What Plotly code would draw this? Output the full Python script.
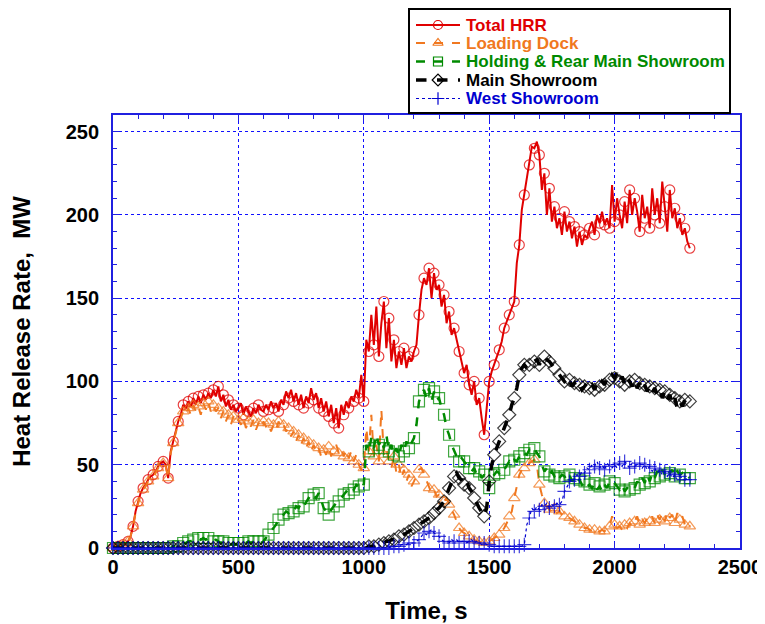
import plotly.graph_objects as go

# time axis, seconds (10 s sampling)
time_s = list(range(0, 2301, 10))

total_hrr = [
    0, 1, 1, 2, 2, 3, 4, 7, 13, 22,
    28, 33, 36, 38, 41, 43, 44, 46, 49, 51,
    52, 50, 42, 58, 64, 70, 76, 80, 86, 84,
    88, 85, 90, 86, 91, 87, 92, 89, 93, 90,
    95, 91, 97, 88, 92, 85, 89, 83, 86, 82,
    84, 87, 80, 85, 82, 79, 84, 81, 86, 83,
    82, 86, 83, 88, 84, 87, 82, 89, 86, 94,
    90, 95, 88, 93, 86, 92, 84, 91, 87, 96,
    89, 93, 84, 90, 82, 88, 79, 86, 75, 84,
    72, 86, 80, 88, 84, 91, 88, 95, 90, 104,
    88, 125, 118, 140, 122, 145, 115, 135, 148, 120,
    138, 112, 125, 108, 118, 110, 120, 108, 115, 112,
    118, 122, 140, 155, 162, 158, 168, 150, 165, 155,
    158, 145, 152, 135, 142, 128, 132, 125, 118, 112,
    105, 110, 98, 92, 100, 86, 90, 78, 68, 84,
    100, 106, 110, 114, 119, 124, 132, 136, 140, 144,
    148, 171, 182, 203, 212, 221, 230, 241, 240, 244,
    236, 215, 225, 200, 216, 196, 205, 192, 198, 188,
    202, 190, 196, 186, 193, 181, 190, 182, 188, 186,
    192, 196, 188, 200, 195, 202, 194, 198, 192, 218,
    196, 210, 200, 192, 208, 195, 215, 200, 210, 202,
    190, 212, 198, 205, 192, 216, 200, 210, 195, 220,
    205, 190, 215, 198, 204, 192, 198, 188, 192, 184,
    180,
]

loading_dock = [
    0, 1, 1, 2, 2, 3, 4, 7, 13, 21,
    27, 32, 35, 37, 40, 42, 43, 45, 48, 50,
    51, 49, 42, 57, 63, 69, 75, 78, 82, 80,
    84, 80, 86, 82, 85, 80, 87, 83, 88, 82,
    86, 82, 84, 78, 82, 76, 80, 74, 79, 75,
    77, 74, 78, 72, 76, 73, 77, 71, 75, 72,
    76, 73, 75, 70, 74, 71, 76, 72, 74, 70,
    72, 67, 70, 64, 68, 62, 66, 60, 64, 58,
    62, 57, 60, 55, 59, 56, 61, 55, 58, 62,
    57, 60, 55, 59, 54, 58, 52, 56, 50, 47,
    48, 72, 58, 80, 55, 62, 52, 83, 56, 60,
    52, 48, 55, 45, 50, 42, 47, 40, 44, 37,
    40, 44, 47, 48, 44, 40, 36, 33, 35, 31,
    32, 30, 28, 30, 26, 23, 20, 16, 12, 10,
    9, 8, 7, 6, 5, 4, 4, 3, 3, 3,
    4, 5, 6, 7, 8, 10, 12, 15, 19, 22,
    30, 38, 44, 47, 48, 50, 51, 52, 53, 50,
    38, 32, 27, 25, 23, 22, 24, 21, 22, 20,
    19, 20, 18, 17, 16, 15, 14, 13, 12, 12,
    11, 10, 11, 9, 10, 11, 10, 12, 13, 19,
    14, 12, 13, 11, 14, 12, 15, 13, 16, 19,
    14, 17, 15, 18, 16, 19, 15, 20, 17, 21,
    16, 22, 18, 20, 15, 21, 17, 19, 14, 16,
    13,
]

holding_rear = [
    0, 0, 0, 0, 0, 0, 0, 0, 0, 0,
    0, 0, 0, 0, 0, 0, 0, 0, 0, 0,
    0, 0, 0, 0, 1, 1, 1, 2, 3, 3,
    4, 4, 5, 5, 6, 5, 6, 5, 6, 5,
    4, 5, 4, 3, 4, 3, 3, 2, 3, 2,
    3, 2, 3, 3, 4, 3, 4, 3, 4, 3,
    4, 6, 8, 10, 12, 14, 17, 19, 20, 22,
    21, 23, 22, 25, 24, 27, 25, 28, 30, 29,
    32, 30, 33, 29, 24, 22, 20, 23, 25, 27,
    28, 30, 32, 34, 33, 36, 35, 38, 37, 40,
    38, 62, 58, 66, 60, 68, 62, 65, 60, 68,
    58, 62, 56, 60, 55, 62, 58, 64, 60, 63,
    66, 74, 88, 92, 95, 90, 96, 88, 94, 89,
    90, 84, 80, 72, 68, 62, 58, 55, 52, 54,
    52, 50, 48, 46, 48, 44, 46, 42, 44, 40,
    36, 42, 44, 46, 45, 48, 47, 50, 52, 50,
    53, 52, 55, 54, 57, 56, 59, 58, 60, 57,
    55, 50, 46, 48, 44, 46, 43, 45, 42, 44,
    43, 41, 44, 40, 42, 39, 41, 38, 40, 37,
    38, 36, 39, 35, 37, 34, 38, 36, 40, 41,
    39, 37, 35, 38, 34, 36, 35, 37, 36, 40,
    38, 42, 39, 44, 40, 45, 42, 46, 43, 47,
    44, 48, 45, 47, 43, 46, 44, 45, 42, 43,
    42,
]

main_showroom = [
    0, 0, 0, 0, 0, 0, 0, 0, 0, 0,
    0, 0, 0, 0, 0, 0, 0, 0, 0, 0,
    0, 0, 0, 0, 0, 0, 0, 0, 0, 0,
    0, 0, 0, 0, 0, 0, 0, 0, 0, 0,
    0, 0, 0, 0, 0, 0, 0, 0, 0, 0,
    0, 0, 0, 0, 0, 0, 0, 0, 0, 0,
    0, 0, 0, 0, 0, 0, 0, 0, 0, 0,
    0, 0, 0, 0, 0, 0, 0, 0, 0, 0,
    0, 0, 0, 0, 0, 0, 0, 0, 0, 0,
    0, 0, 0, 0, 0, 0, 0, 0, 0, 0,
    0, 0, 1, 1, 1, 2, 2, 3, 3, 4,
    4, 5, 5, 6, 7, 7, 8, 9, 10, 11,
    12, 13, 14, 15, 16, 17, 18, 19, 21, 23,
    24, 26, 28, 32, 36, 40, 43, 45, 42, 41,
    38, 40, 36, 34, 30, 27, 24, 21, 19, 24,
    40, 50, 56, 60, 64, 68, 72, 76, 80, 86,
    90, 96, 104, 108, 110, 108, 110, 111, 112, 113,
    110, 114, 115, 113, 112, 110, 108, 106, 104, 102,
    100, 98, 101, 97, 99, 96, 98, 95, 97, 99,
    96, 98, 95, 99, 97, 100, 98, 102, 101, 104,
    102, 105, 100, 103, 98, 102, 100, 97, 101, 96,
    99, 95, 98, 94, 97, 93, 96, 92, 95, 90,
    94, 89, 92, 86, 90, 84, 88, 85, 89, 86,
    88,
]

west_showroom = [
    0, 0, 0, 0, 0, 0, 0, 0, 0, 0,
    0, 0, 0, 0, 0, 0, 0, 0, 0, 0,
    0, 0, 0, 0, 0, 0, 0, 0, 0, 0,
    0, 0, 0, 0, 0, 0, 0, 0, 0, 0,
    0, 0, 0, 0, 0, 0, 0, 0, 0, 0,
    0, 0, 0, 0, 0, 0, 0, 0, 0, 0,
    0, 0, 0, 0, 0, 0, 0, 0, 0, 0,
    0, 0, 0, 0, 0, 0, 0, 0, 0, 0,
    0, 0, 0, 0, 0, 0, 0, 0, 0, 0,
    0, 0, 0, 0, 0, 0, 0, 0, 0, 0,
    0, 0, 0, 0, 0, 0, 0, 0, 0, 0,
    0, 1, 1, 1, 1, 2, 2, 2, 3, 3,
    3, 4, 5, 7, 9, 8, 10, 11, 9, 8,
    7, 5, 4, 3, 3, 5, 4, 5, 3, 4,
    4, 3, 4, 5, 3, 4, 3, 2, 3, 2,
    2, 1, 1, 1, 1, 1, 1, 1, 1, 1,
    1, 1, 1, 1, 2, 14, 18, 24, 22, 25,
    23, 26, 25, 27, 24, 26, 25, 27, 26, 28,
    34, 37, 40, 42, 41, 44, 43, 46, 45, 48,
    47, 50, 49, 52, 48, 50, 47, 51, 49, 48,
    50, 48, 51, 49, 52, 50, 48, 51, 49, 50,
    51, 48, 50, 47, 49, 46, 48, 45, 47, 44,
    46, 43, 45, 42, 44, 41, 43, 42, 41, 42,
    41,
]

series = [
    ("Total HRR", total_hrr, "#e00000", "solid", 2, "circle-open", 10),
    ("Loading Dock", loading_dock, "#f07820", "dash", 2, "triangle-up-open", 10),
    ("Holding & Rear Main Showroom", holding_rear, "#008a00", "dash", 2.5, "square-open", 11),
    ("Main Showroom", main_showroom, "#000000", "dash", 3.5, "diamond-open", 10),
    ("West Showroom", west_showroom, "#0000d0", "dot", 1.2, "cross-thin-open", 10),
]

fig = go.Figure()
for name, vals, color, dash, width, symbol, size in series:
    fig.add_trace(go.Scatter(x=time_s, y=vals, mode="lines",
                             line=dict(color=color, dash=dash, width=width),
                             hoverinfo="skip"))
    fig.add_trace(go.Scatter(x=time_s[::2], y=vals[::2], mode="markers", name=name,
                             marker=dict(symbol=symbol, size=size, opacity=0.75,
                                         color=color, line=dict(color=color, width=1.2)),
                             cliponaxis=False))

# legend box drawn on a hidden overlay subplot measured in page pixels,
# so it can be as compact as the original one
leg_row_y = [25, 43, 61.5, 80, 98.5]
for (name, vals, color, dash, width, symbol, size), ry in zip(series, leg_row_y):
    fig.add_trace(go.Scatter(x=[416, 460], y=[ry, ry], mode="lines", xaxis="x3", yaxis="y3",
                             line=dict(color=color, dash=dash, width=width), hoverinfo="skip"))
    fig.add_trace(go.Scatter(x=[438], y=[ry], mode="markers", xaxis="x3", yaxis="y3",
                             marker=dict(symbol=symbol, size=9, color=color,
                                         line=dict(color=color, width=1.2)),
                             hoverinfo="skip", cliponaxis=False))
    fig.add_annotation(x=464, y=ry, xref="x3", yref="y3", text=f"<b>{name}</b>",
                       showarrow=False, xanchor="left", yanchor="middle",
                       font=dict(family="Liberation Sans, Arial", size=17, color=color))
fig.add_shape(type="rect", xref="x3", yref="y3", x0=409, x1=730, y0=9, y1=113,
              line=dict(color="black", width=2))

tick_font = dict(family="Liberation Sans, Arial", size=20, color="black", weight="bold")

axis_common = dict(
    showline=True, linecolor="#2020e0", linewidth=1.8, mirror="ticks",
    showgrid=True, gridcolor="#1010ff", griddash="dot", gridwidth=1.2,
    ticks="inside", ticklen=6, tickcolor="#2020e0",
    tickfont=tick_font, zeroline=False,
)

# page body has an 8 px margin, so the figure is sized/offset to land the
# plot frame where the original has it
fig.update_layout(
    width=757, height=616, showlegend=False,
    margin=dict(l=105, r=25, t=0, b=76, autoexpand=False),
    paper_bgcolor="white", plot_bgcolor="rgba(0,0,0,0)",
    font=dict(family="Liberation Sans, Arial", color="black"),
    xaxis=dict(range=[0, 2500], dtick=500,
               minor=dict(dtick=100, ticks="inside", ticklen=4, tickcolor="#2020e0", showgrid=False),
               title=dict(text="<b>Time, s</b>", font=dict(size=24), standoff=25),
               **axis_common),
    yaxis=dict(range=[0, 260], tick0=0, dtick=50, ticklabelstandoff=8, domain=[0, 433 / 540],
               minor=dict(dtick=10, ticks="inside", ticklen=4, tickcolor="#2020e0", showgrid=False),
               title=dict(text="<b>Heat Release Rate,  MW</b>", font=dict(size=24), standoff=29),
               **axis_common),
    xaxis3=dict(domain=[0, 1], anchor="y3", range=[113, 740], visible=False, fixedrange=True),
    yaxis3=dict(domain=[0, 1], anchor="x3", range=[548, 8], visible=False, fixedrange=True),
)

fig.write_html("out.html")
